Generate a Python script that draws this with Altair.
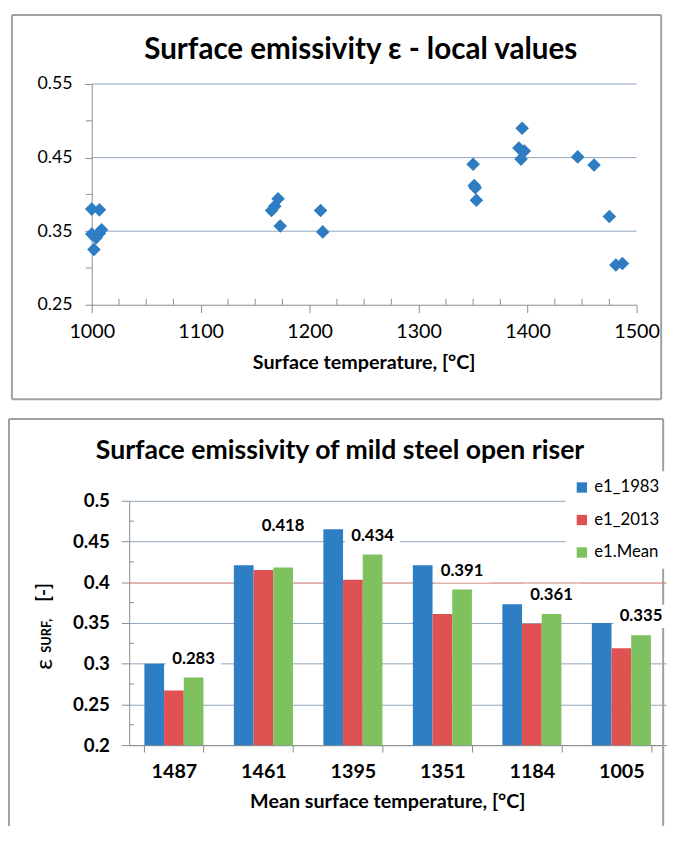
import altair as alt
import pandas as pd

# ---------------- data: top chart (local values) ----------------
local_temp = [1000, 1007, 1000, 1004, 1009, 1007, 1002,
              1165, 1168, 1171, 1173, 1210, 1212,
              1350, 1351, 1352, 1353,
              1395, 1392, 1397, 1394,
              1446, 1461, 1475, 1481, 1487]
local_eps = [0.380, 0.379, 0.346, 0.341, 0.352, 0.347, 0.325,
             0.378, 0.384, 0.394, 0.357, 0.378, 0.349,
             0.441, 0.412, 0.409, 0.392,
             0.490, 0.463, 0.459, 0.448,
             0.451, 0.440, 0.370, 0.304, 0.306]
top_x_ticks = [1000, 1100, 1200, 1300, 1400, 1500]
top_x_minor = [1025, 1050, 1075, 1125, 1150, 1175, 1225, 1250, 1275,
               1325, 1350, 1375, 1425, 1450, 1475]
top_y_ticks = [0.25, 0.35, 0.45, 0.55]
top_y_grid = [0.35, 0.45, 0.55]
top_y_minor = [0.30, 0.40, 0.50]

# ---------------- data: bottom chart (mean values) ----------------
mean_temps = ["1487", "1461", "1395", "1351", "1184", "1005"]
e1_1983 = [0.300, 0.421, 0.465, 0.421, 0.373, 0.350]
e1_2013 = [0.267, 0.415, 0.403, 0.361, 0.349, 0.319]
e1_mean = [0.283, 0.418, 0.434, 0.391, 0.361, 0.335]
series_names = ["e1_1983", "e1_2013", "e1.Mean"]
series_colors = ["#2E7EC4", "#E05252", "#7DC25E"]
bot_y_ticks = [0.2, 0.25, 0.3, 0.35, 0.4, 0.45, 0.5]
bot_y_minor = [0.225, 0.275, 0.325, 0.375, 0.425, 0.475]
raised_label = "1461"

FONT = "Lato"
AX = "#8C8C8C"
GRID = "#8FA4B8"
BORDER = "#A0A0A0"
one = pd.DataFrame({"k": [0]})


def frame(x1, x2, y1, y2, bottom=True):
    parts = [
        alt.Chart(one).mark_rule(color=BORDER, strokeWidth=2).encode(
            x=alt.value(x1), x2=alt.value(x2), y=alt.value(y1)),
        alt.Chart(one).mark_rule(color=BORDER, strokeWidth=2).encode(
            x=alt.value(x1), y=alt.value(y1), y2=alt.value(y2)),
        alt.Chart(one).mark_rule(color=BORDER, strokeWidth=2).encode(
            x=alt.value(x2), y=alt.value(y1), y2=alt.value(y2)),
    ]
    if bottom:
        parts.append(alt.Chart(one).mark_rule(color=BORDER, strokeWidth=2).encode(
            x=alt.value(x1), x2=alt.value(x2), y=alt.value(y2)))
    return parts


# ================= TOP CHART =================
# plot origin is shared with the bottom chart; the x range starts 38px left of it
W1, H1 = 515, 224
SH = 38
df_local = pd.DataFrame({"temp": local_temp, "eps": local_eps})
xs1 = alt.Scale(domain=[1000, 1500], range=[-SH, W1], nice=False, zero=False)
ys1 = alt.Scale(domain=[0.25, 0.55], nice=False, zero=False)

title1 = alt.Chart(one).mark_text(text="Surface emissivity ε - local values", font=FONT,
                                  fontSize=30, fontWeight="bold", align="center",
                                  baseline="alphabetic", color="black").encode(
    x=alt.value(235), y=alt.value(-25))

grid1 = alt.Chart(pd.DataFrame({"eps": top_y_grid})).mark_rule(color=GRID).encode(
    y=alt.Y("eps:Q", scale=ys1), x=alt.value(-SH), x2=alt.value(W1))

pts = alt.Chart(df_local).mark_point(shape="diamond", filled=True, size=190,
                                     color="#2E7DC3", opacity=1).encode(
    x=alt.X("temp:Q", scale=xs1,
            axis=alt.Axis(values=top_x_ticks, format="d", grid=False, tickSize=8,
                          tickColor=AX, domainColor=AX, labelFont=FONT, labelFontSize=20,
                          labelColor="black", labelPadding=9, labelFlush=False,
                          title="Surface temperature, [°C]", titleFont=FONT,
                          titleFontSize=20, titleFontWeight="bold", titleColor="black",
                          titlePadding=12, titleX=238)),
    y=alt.Y("eps:Q", scale=ys1,
            axis=alt.Axis(values=top_y_ticks, format=".2f", grid=False, offset=SH,
                          tickSize=7, tickColor=AX, domainColor=AX, labelFont=FONT,
                          labelFontSize=18, labelColor="black", labelPadding=13,
                          labelFlush=False, title=None)))

xminor1 = alt.Chart(pd.DataFrame({"temp": top_x_minor})).mark_rule(color=AX).encode(
    x=alt.X("temp:Q", scale=xs1), y=alt.value(H1 - 6), y2=alt.value(H1))
yminor1 = alt.Chart(pd.DataFrame({"eps": top_y_minor})).mark_rule(color=AX).encode(
    y=alt.Y("eps:Q", scale=ys1), x=alt.value(-SH - 6), x2=alt.value(-SH))

top = alt.layer(*frame(-119, 540, -70, 320), title1, grid1, pts, xminor1,
                yminor1).properties(width=W1, height=H1)

# ================= BOTTOM CHART =================
W2, H2 = 545, 248
rows = []
for i, t in enumerate(mean_temps):
    for s, vals in zip(series_names, [e1_1983, e1_2013, e1_mean]):
        rows.append({"temp": t, "series": s, "value": vals[i]})
df_bars = pd.DataFrame(rows)
df_lab = pd.DataFrame({"temp": mean_temps, "series": ["e1.Mean"] * len(mean_temps),
                       "value": e1_mean})

xs2 = alt.Scale(domain=mean_temps, paddingInner=0.34, paddingOuter=0.17)
xo2 = alt.Scale(domain=series_names, paddingInner=0, paddingOuter=0)
ys2 = alt.Scale(domain=[0.2, 0.5], nice=False, zero=False)

title2 = alt.Chart(one).mark_text(text="Surface emissivity of mild steel open riser",
                                  font=FONT, fontSize=27, fontWeight="bold", align="center",
                                  baseline="alphabetic", color="black").encode(
    x=alt.value(214), y=alt.value(-42))

yt_eps = alt.Chart(one).mark_text(text="ε", font=FONT, fontSize=24, angle=270,
                                  align="center", baseline="middle", color="black").encode(
    x=alt.value(-85), y=alt.value(166))
yt_surf = alt.Chart(one).mark_text(text="SURF,", font=FONT, fontSize=13, fontWeight="bold",
                                   angle=270, align="center", baseline="middle",
                                   color="black").encode(
    x=alt.value(-83), y=alt.value(137))
yt_unit = alt.Chart(one).mark_text(text="[-]", font=FONT, fontSize=19, fontWeight="bold",
                                   angle=270, align="center", baseline="middle",
                                   color="black").encode(
    x=alt.value(-86), y=alt.value(93))

bars = alt.Chart(df_bars).mark_bar(clip=True).encode(
    x=alt.X("temp:N", scale=xs2,
            axis=alt.Axis(tickBand="extent", labelAngle=0, tickSize=7, tickColor=AX,
                          domainColor=AX, labelFont=FONT, labelFontSize=20,
                          labelFontWeight="bold", labelColor="black", labelPadding=10,
                          title="Mean surface temperature, [°C]", titleFont=FONT,
                          titleFontSize=20, titleFontWeight="bold", titleColor="black",
                          titlePadding=10, titleX=262)),
    xOffset=alt.XOffset("series:N", scale=xo2),
    y=alt.Y("value:Q", scale=ys2,
            axis=alt.Axis(values=bot_y_ticks, format="~g", grid=True,
                          gridColor={"condition": {"test": "abs(datum.value - 0.4) < 0.001",
                                                   "value": "#C86A64"},
                                     "value": GRID},
                          tickSize=8, tickColor=AX, domainColor=AX, labelFont=FONT,
                          labelFontSize=19, labelFontWeight="bold", labelColor="black",
                          labelPadding=12, title=None)),
    color=alt.Color("series:N", scale=alt.Scale(domain=series_names, range=series_colors),
                    legend=alt.Legend(title=None, orient="none", legendX=443, legendY=-30,
                                      fillColor="white", padding=8, symbolType="square",
                                      symbolSize=110, symbolStrokeWidth=0,
                                      labelFont=FONT, labelFontSize=17, labelColor="black",
                                      rowPadding=15, labelOffset=4)))


def lab_layers(data, shift):
    # white box behind the value label (offset baked into the symbol path, in units of 28px)
    c = shift / 28.0
    path = "M-1,{a:.3f}L1,{a:.3f}L1,{b:.3f}L-1,{b:.3f}Z".format(a=c - 0.42, b=c + 0.42)
    box = alt.Chart(data).mark_point(shape=path, filled=True, fill="white", size=3136,
                                     opacity=1, strokeWidth=0).encode(
        x=alt.X("temp:N", scale=xs2),
        xOffset=alt.XOffset("series:N", scale=xo2),
        y=alt.Y("value:Q", scale=ys2))
    txt = alt.Chart(data).mark_text(font=FONT, fontSize=17, fontWeight="bold", color="black",
                                    align="center", baseline="middle", dy=shift).encode(
        x=alt.X("temp:N", scale=xs2),
        xOffset=alt.XOffset("series:N", scale=xo2),
        y=alt.Y("value:Q", scale=ys2),
        text=alt.Text("value:Q", format=".3f"))
    return [box, txt]


lab_normal = df_lab[df_lab["temp"] != raised_label]
lab_raised = df_lab[df_lab["temp"] == raised_label]

yminor2 = alt.Chart(pd.DataFrame({"value": bot_y_minor})).mark_rule(color=AX).encode(
    y=alt.Y("value:Q", scale=ys2), x=alt.value(0), x2=alt.value(5))

bottom = alt.layer(*frame(-122, 542, -83, 330, bottom=False), title2, yt_eps, yt_surf,
                   yt_unit, bars, *lab_layers(lab_normal, -19),
                   *lab_layers(lab_raised, -42), yminor2).properties(width=W2, height=H2)

chart = alt.vconcat(top, bottom, spacing=18).resolve_scale(
    color="independent").resolve_legend(color="independent").properties(
    padding=0, background="white"
).configure_view(strokeWidth=0)

chart.save("out.html", embed_options={"renderer": "svg", "actions": False})
